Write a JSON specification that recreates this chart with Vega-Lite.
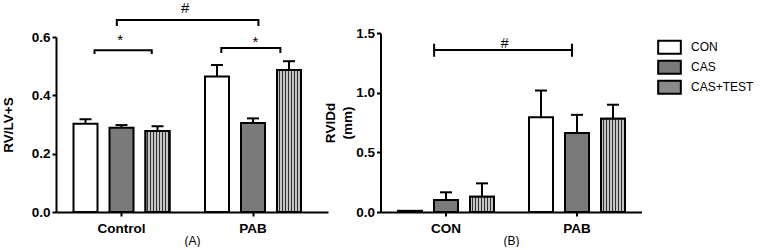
{
  "$schema": "https://vega.github.io/schema/vega-lite/v6.json",
  "autosize": {"type": "pad"},
  "padding": {"left": 1, "top": 1, "right": 0, "bottom": 0},
  "bounds": "flush",
  "spacing": 52.5,
  "config": {
    "view": {"stroke": null},
    "font": "Liberation Sans",
    "axis": {
      "grid": false,
      "domainColor": "black", "domainWidth": 2,
      "tickColor": "black", "tickWidth": 2, "tickSize": 4,
      "labelFont": "Liberation Sans", "labelFontWeight": "bold", "labelFontSize": 13.5, "labelColor": "black",
      "titleFont": "Liberation Sans", "titleFontWeight": "bold", "titleFontSize": 13.5, "titleColor": "black"
    },
    "legend": {
      "title": null, "orient": "none", "legendX": 604, "legendY": 4.7, "padding": 0, "direction": "vertical", "columns": 1,
      "symbolType": "M-1.4,-0.8H1.4V0.8H-1.4Z", "symbolSize": 262, "symbolStrokeColor": "black", "symbolStrokeWidth": 2,
      "labelFont": "Liberation Sans", "labelFontSize": 12, "labelColor": "black", "labelOffset": 12, "rowPadding": -4
    }
  },
  "datasets": {
    "A": [
      {"group": "Control", "trt": "CON", "mean": 0.303, "hi": 0.318},
      {"group": "Control", "trt": "CAS", "mean": 0.289, "hi": 0.298},
      {"group": "Control", "trt": "CAS+TEST", "mean": 0.278, "hi": 0.294},
      {"group": "PAB", "trt": "CON", "mean": 0.465, "hi": 0.504},
      {"group": "PAB", "trt": "CAS", "mean": 0.305, "hi": 0.321},
      {"group": "PAB", "trt": "CAS+TEST", "mean": 0.487, "hi": 0.517}
    ],
    "B": [
      {"group": "CON", "trt": "CON", "mean": 0.01, "hi": null},
      {"group": "CON", "trt": "CAS", "mean": 0.1, "hi": 0.165},
      {"group": "CON", "trt": "CAS+TEST", "mean": 0.128, "hi": 0.24},
      {"group": "PAB", "trt": "CON", "mean": 0.795, "hi": 1.018},
      {"group": "PAB", "trt": "CAS", "mean": 0.661, "hi": 0.814},
      {"group": "PAB", "trt": "CAS+TEST", "mean": 0.781, "hi": 0.899}
    ],
    "annA": [
      {"id": "h", "o": 1, "group": "Control", "off": -0.13, "v": 0.6377},
      {"id": "h", "o": 2, "group": "Control", "off": -0.13, "v": 0.6583},
      {"id": "h", "o": 3, "group": "PAB", "off": 0.15, "v": 0.6583},
      {"id": "h", "o": 4, "group": "PAB", "off": 0.15, "v": 0.6377},
      {"id": "s1", "o": 1, "group": "Control", "off": -0.75, "v": 0.5417},
      {"id": "s1", "o": 2, "group": "Control", "off": -0.75, "v": 0.5544},
      {"id": "s1", "o": 3, "group": "Control", "off": 0.84, "v": 0.5544},
      {"id": "s1", "o": 4, "group": "Control", "off": 0.84, "v": 0.5417},
      {"id": "s2", "o": 1, "group": "PAB", "off": -0.88, "v": 0.5451},
      {"id": "s2", "o": 2, "group": "PAB", "off": -0.88, "v": 0.5623},
      {"id": "s2", "o": 3, "group": "PAB", "off": 0.76, "v": 0.5623},
      {"id": "s2", "o": 4, "group": "PAB", "off": 0.76, "v": 0.5451}
    ],
    "txtA": [
      {"label": "#", "group": "Control", "off": 1.77, "v": 0.6806},
      {"label": "*", "group": "Control", "off": -0.04, "v": 0.572},
      {"label": "*", "group": "PAB", "off": 0.07, "v": 0.566}
    ],
    "annB": [
      {"id": "h", "o": 1, "group": "CON", "off": -0.33, "v": 1.4104},
      {"id": "h", "o": 2, "group": "CON", "off": -0.33, "v": 1.3014},
      {"id": "h", "o": 3, "group": "CON", "off": -0.33, "v": 1.3576},
      {"id": "h", "o": 4, "group": "PAB", "off": -0.14, "v": 1.3576},
      {"id": "h", "o": 5, "group": "PAB", "off": -0.14, "v": 1.4104},
      {"id": "h", "o": 6, "group": "PAB", "off": -0.14, "v": 1.3014}
    ],
    "txtB": [
      {"label": "#", "group": "CON", "off": 1.63, "v": 1.373}
    ]
  },
  "hconcat": [
    {
      "width": 272,
      "height": 179,
      "layer": [
        {
          "data": {"name": "A"},
          "encoding": {
            "x": {"field": "group", "type": "nominal",
              "scale": {"paddingInner": 0.27, "paddingOuter": 0.1692, "align": 0.3933, "round": false},
              "axis": {"title": "(A)", "labelAngle": 0, "labelPadding": 5, "titlePadding": 1, "titleFontWeight": "normal", "titleFontSize": 12}},
            "xOffset": {"field": "trt", "type": "nominal",
              "scale": {"domain": ["CON", "CAS", "CAS+TEST"], "paddingInner": 0.3333, "paddingOuter": 0}}
          },
          "layer": [
            {
              "mark": {"type": "bar", "stroke": "black", "strokeWidth": 2},
              "encoding": {
                "y": {"field": "mean", "type": "quantitative",
                  "scale": {"domain": [0, 0.6], "range": [179, 4], "nice": false},
                  "axis": {"values": [0, 0.2, 0.4, 0.6], "format": ".1f", "title": "RV/LV+S", "titlePadding": 16, "labelPadding": 2}},
                "fill": {"field": "trt", "type": "nominal",
                  "scale": {"domain": ["CON", "CAS", "CAS+TEST"], "range": ["white", "#7a7a7a", "#8a8a8a"]}}
              }
            },
            {
              "transform": [{"filter": "datum.trt === 'CAS+TEST'"}],
              "mark": {"type": "bar", "stroke": "black", "strokeWidth": 2,
                "fill": {"gradient": "linear", "x1": 0, "y1": 0, "x2": 1, "y2": 0, "stops": [
                  {"offset": 0, "color": "#c4c4c4"}, {"offset": 0.0833, "color": "#c4c4c4"}, {"offset": 0.0833, "color": "#303030"}, {"offset": 0.125, "color": "#303030"},
                  {"offset": 0.125, "color": "#c4c4c4"}, {"offset": 0.2083, "color": "#c4c4c4"}, {"offset": 0.2083, "color": "#303030"}, {"offset": 0.25, "color": "#303030"},
                  {"offset": 0.25, "color": "#c4c4c4"}, {"offset": 0.3333, "color": "#c4c4c4"}, {"offset": 0.3333, "color": "#303030"}, {"offset": 0.375, "color": "#303030"},
                  {"offset": 0.375, "color": "#c4c4c4"}, {"offset": 0.4583, "color": "#c4c4c4"}, {"offset": 0.4583, "color": "#303030"}, {"offset": 0.5, "color": "#303030"},
                  {"offset": 0.5, "color": "#c4c4c4"}, {"offset": 0.5833, "color": "#c4c4c4"}, {"offset": 0.5833, "color": "#303030"}, {"offset": 0.625, "color": "#303030"},
                  {"offset": 0.625, "color": "#c4c4c4"}, {"offset": 0.7083, "color": "#c4c4c4"}, {"offset": 0.7083, "color": "#303030"}, {"offset": 0.75, "color": "#303030"},
                  {"offset": 0.75, "color": "#c4c4c4"}, {"offset": 0.8333, "color": "#c4c4c4"}, {"offset": 0.8333, "color": "#303030"}, {"offset": 0.875, "color": "#303030"},
                  {"offset": 0.875, "color": "#c4c4c4"}, {"offset": 0.9583, "color": "#c4c4c4"}, {"offset": 0.9583, "color": "#303030"}, {"offset": 1, "color": "#303030"}
                ]}},
              "encoding": {"y": {"field": "mean", "type": "quantitative"}}
            },
            {
              "mark": {"type": "rule", "strokeWidth": 2, "color": "black"},
              "encoding": {"y": {"field": "mean", "type": "quantitative"}, "y2": {"field": "hi"}}
            },
            {
              "mark": {"type": "tick", "thickness": 2, "size": 12, "color": "black", "opacity": 1},
              "encoding": {"y": {"field": "hi", "type": "quantitative"}}
            }
          ]
        },
        {
          "layer": [
            {
              "data": {"name": "annA"},
              "mark": {"type": "line", "strokeWidth": 2, "color": "black"},
              "encoding": {
                "x": {"field": "group", "type": "nominal"},
                "xOffset": {"field": "off", "type": "quantitative", "scale": {"domain": [-1.3333, 1.3333], "range": [0, 96]}},
                "y": {"field": "v", "type": "quantitative"},
                "detail": {"field": "id"},
                "order": {"field": "o", "type": "quantitative"}
              }
            },
            {
              "data": {"name": "txtA"},
              "mark": {"type": "text", "fontSize": 15, "color": "black", "baseline": "alphabetic", "align": "center"},
              "encoding": {
                "x": {"field": "group", "type": "nominal"},
                "xOffset": {"field": "off", "type": "quantitative", "scale": {"domain": [-1.3333, 1.3333], "range": [0, 96]}},
                "y": {"field": "v", "type": "quantitative"},
                "text": {"field": "label"}
              }
            }
          ]
        }
      ],
      "resolve": {"scale": {"xOffset": "independent"}}
    },
    {
      "width": 261,
      "height": 179,
      "layer": [
        {
          "data": {"name": "B"},
          "encoding": {
            "x": {"field": "group", "type": "nominal",
              "scale": {"paddingInner": 0.26718, "paddingOuter": 0.12977, "align": 0.5147, "round": false},
              "axis": {"title": "(B)", "labelAngle": 0, "labelPadding": 5, "titlePadding": 1, "titleFontWeight": "normal", "titleFontSize": 12}},
            "xOffset": {"field": "trt", "type": "nominal",
              "scale": {"domain": ["CON", "CAS", "CAS+TEST"], "paddingInner": 0.3333, "paddingOuter": 0}}
          },
          "layer": [
            {
              "mark": {"type": "bar", "stroke": "black", "strokeWidth": 2},
              "encoding": {
                "y": {"field": "mean", "type": "quantitative",
                  "scale": {"domain": [0, 1.5], "nice": false},
                  "axis": {"values": [0, 0.5, 1, 1.5], "format": ".1f", "title": ["RVIDd", "(mm)"], "titleLineHeight": 17, "titlePadding": 1, "labelPadding": 2}},
                "fill": {"field": "trt", "type": "nominal",
                  "scale": {"domain": ["CON", "CAS", "CAS+TEST"], "range": ["white", "#7a7a7a", "#8a8a8a"]}}
              }
            },
            {
              "transform": [{"filter": "datum.trt === 'CAS+TEST'"}],
              "mark": {"type": "bar", "stroke": "black", "strokeWidth": 2,
                "fill": {"gradient": "linear", "x1": 0, "y1": 0, "x2": 1, "y2": 0, "stops": [
                  {"offset": 0, "color": "#c4c4c4"}, {"offset": 0.0833, "color": "#c4c4c4"}, {"offset": 0.0833, "color": "#303030"}, {"offset": 0.125, "color": "#303030"},
                  {"offset": 0.125, "color": "#c4c4c4"}, {"offset": 0.2083, "color": "#c4c4c4"}, {"offset": 0.2083, "color": "#303030"}, {"offset": 0.25, "color": "#303030"},
                  {"offset": 0.25, "color": "#c4c4c4"}, {"offset": 0.3333, "color": "#c4c4c4"}, {"offset": 0.3333, "color": "#303030"}, {"offset": 0.375, "color": "#303030"},
                  {"offset": 0.375, "color": "#c4c4c4"}, {"offset": 0.4583, "color": "#c4c4c4"}, {"offset": 0.4583, "color": "#303030"}, {"offset": 0.5, "color": "#303030"},
                  {"offset": 0.5, "color": "#c4c4c4"}, {"offset": 0.5833, "color": "#c4c4c4"}, {"offset": 0.5833, "color": "#303030"}, {"offset": 0.625, "color": "#303030"},
                  {"offset": 0.625, "color": "#c4c4c4"}, {"offset": 0.7083, "color": "#c4c4c4"}, {"offset": 0.7083, "color": "#303030"}, {"offset": 0.75, "color": "#303030"},
                  {"offset": 0.75, "color": "#c4c4c4"}, {"offset": 0.8333, "color": "#c4c4c4"}, {"offset": 0.8333, "color": "#303030"}, {"offset": 0.875, "color": "#303030"},
                  {"offset": 0.875, "color": "#c4c4c4"}, {"offset": 0.9583, "color": "#c4c4c4"}, {"offset": 0.9583, "color": "#303030"}, {"offset": 1, "color": "#303030"}
                ]}},
              "encoding": {"y": {"field": "mean", "type": "quantitative"}}
            },
            {
              "mark": {"type": "rule", "strokeWidth": 2, "color": "black"},
              "encoding": {"y": {"field": "mean", "type": "quantitative"}, "y2": {"field": "hi"}}
            },
            {
              "mark": {"type": "tick", "thickness": 2, "size": 12, "color": "black", "opacity": 1},
              "encoding": {"y": {"field": "hi", "type": "quantitative"}}
            }
          ]
        },
        {
          "layer": [
            {
              "data": {"name": "annB"},
              "mark": {"type": "line", "strokeWidth": 2, "color": "black"},
              "encoding": {
                "x": {"field": "group", "type": "nominal"},
                "xOffset": {"field": "off", "type": "quantitative", "scale": {"domain": [-1.3333, 1.3333], "range": [0, 96]}},
                "y": {"field": "v", "type": "quantitative"},
                "detail": {"field": "id"},
                "order": {"field": "o", "type": "quantitative"}
              }
            },
            {
              "data": {"name": "txtB"},
              "mark": {"type": "text", "fontSize": 14, "color": "black", "baseline": "alphabetic", "align": "center"},
              "encoding": {
                "x": {"field": "group", "type": "nominal"},
                "xOffset": {"field": "off", "type": "quantitative", "scale": {"domain": [-1.3333, 1.3333], "range": [0, 96]}},
                "y": {"field": "v", "type": "quantitative"},
                "text": {"field": "label"}
              }
            }
          ]
        }
      ],
      "resolve": {"scale": {"xOffset": "independent"}}
    }
  ]
}
